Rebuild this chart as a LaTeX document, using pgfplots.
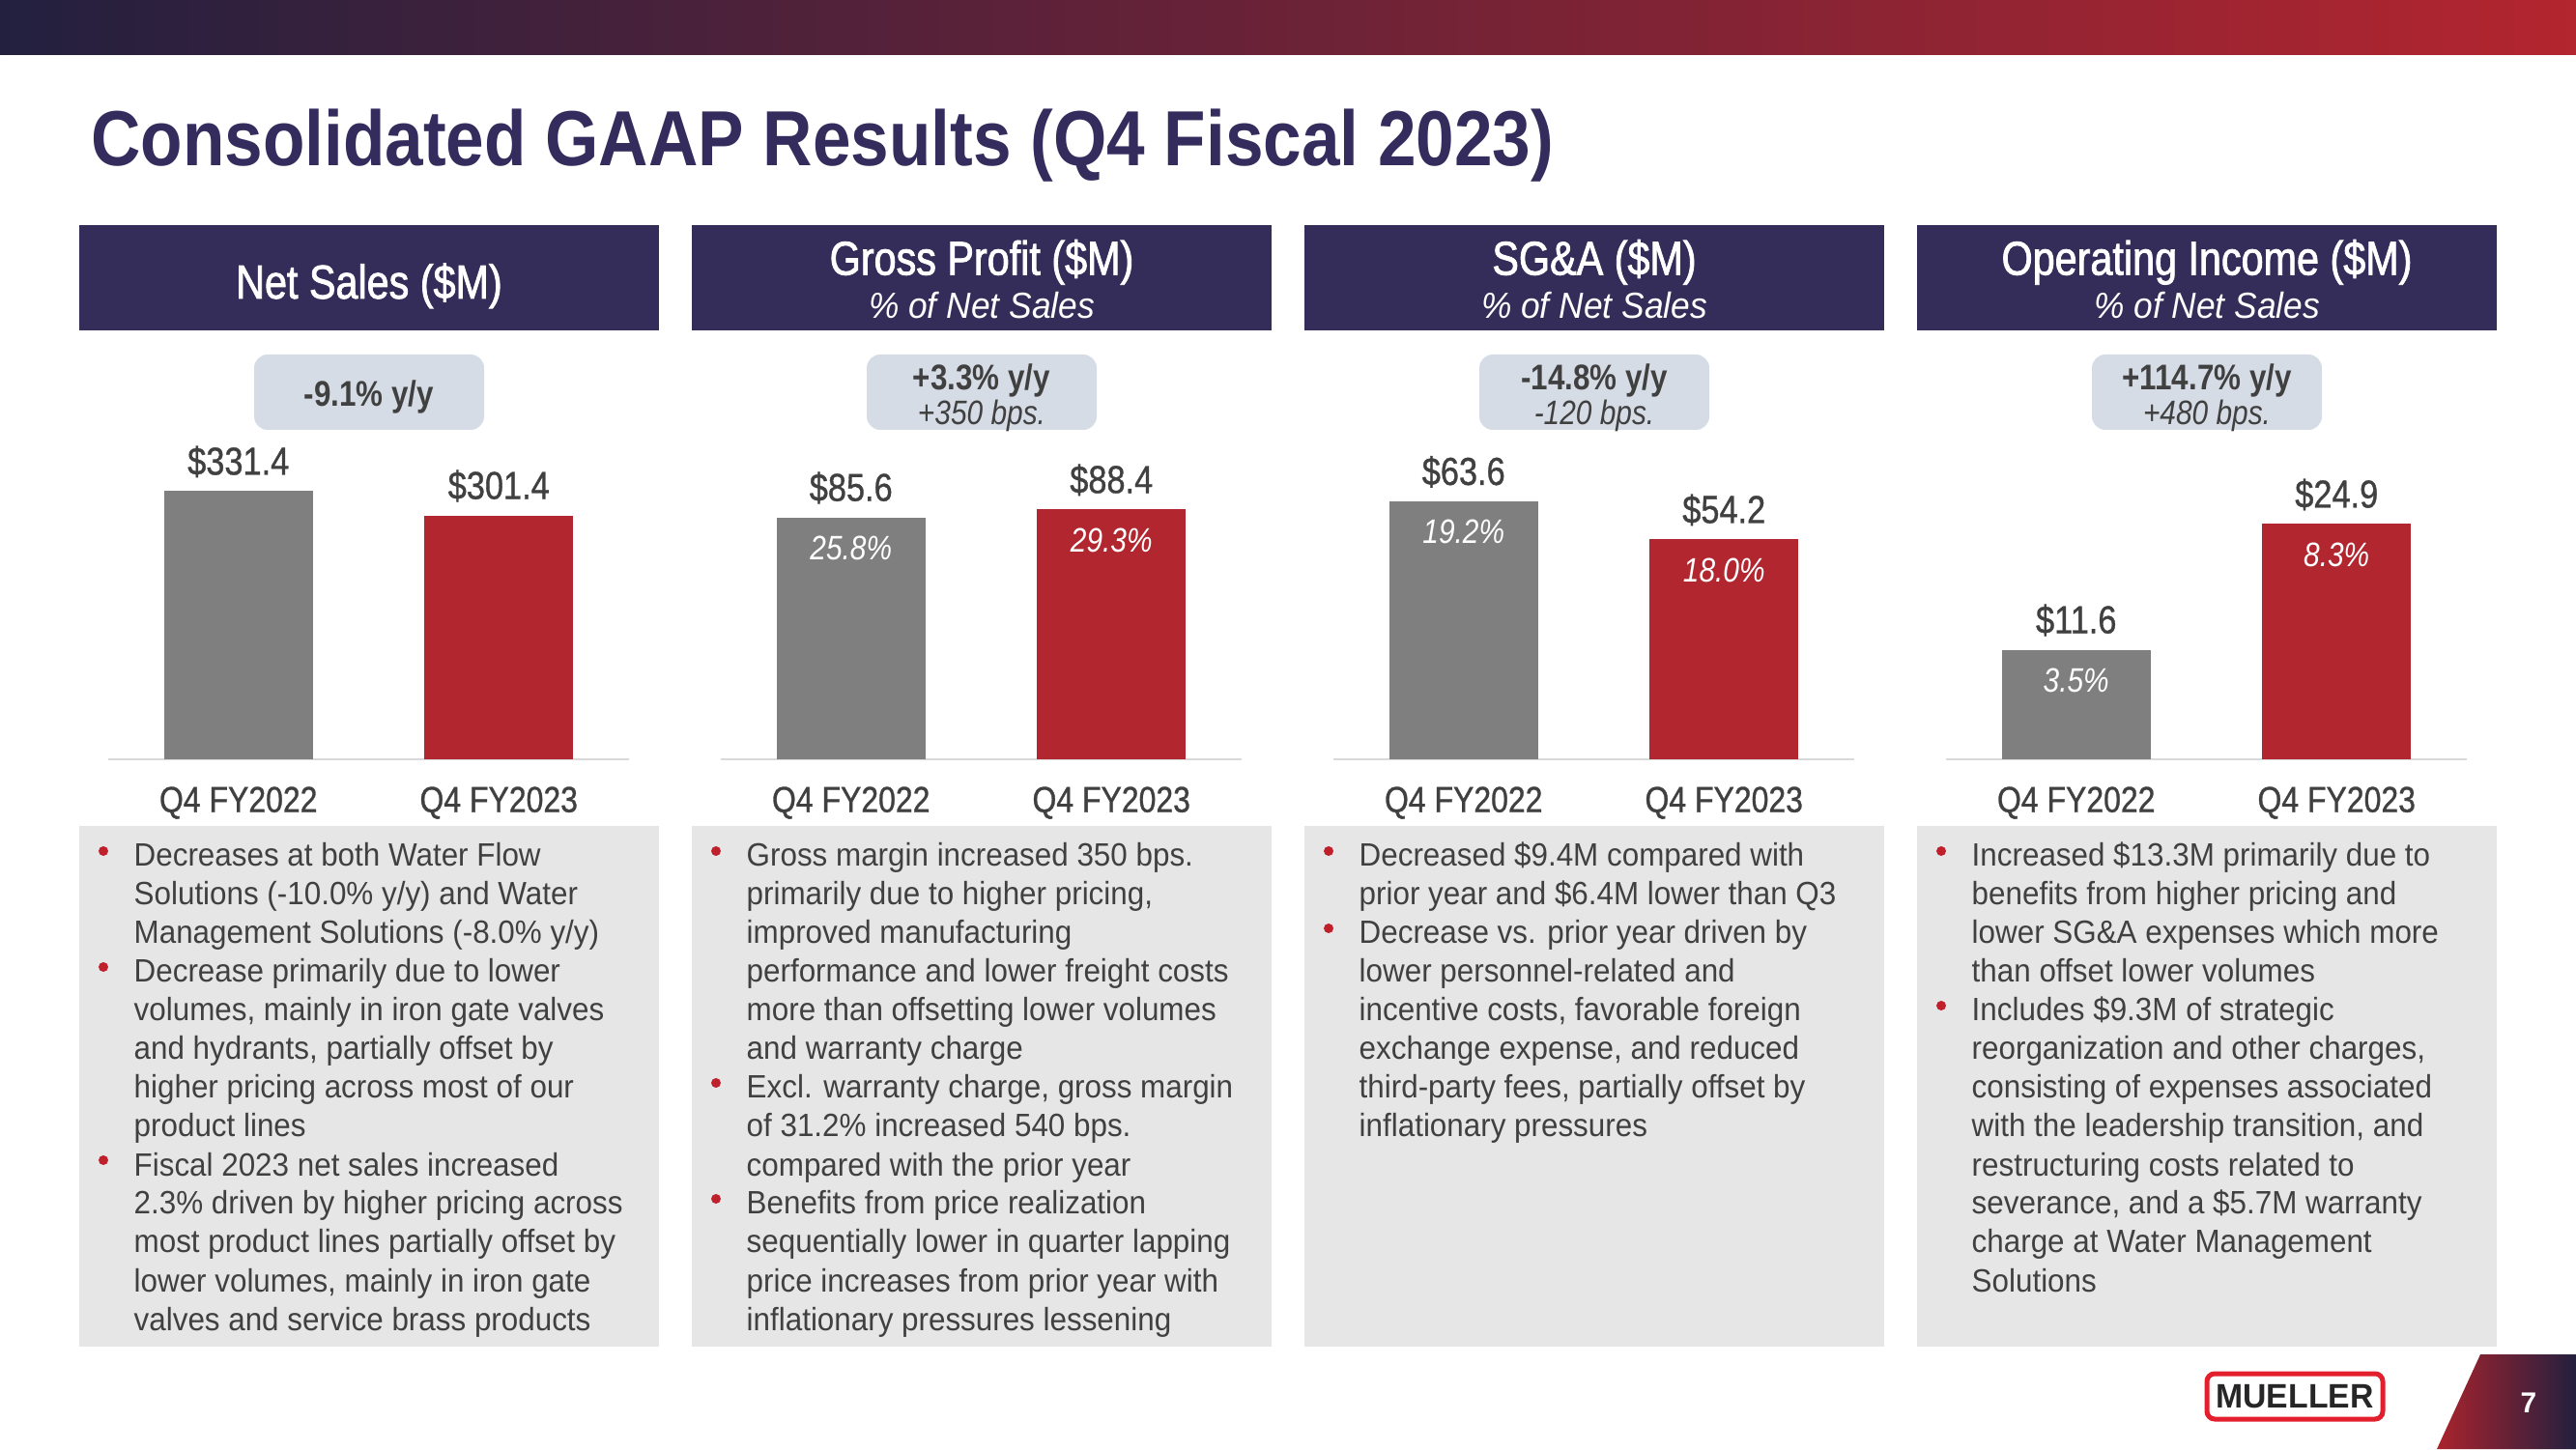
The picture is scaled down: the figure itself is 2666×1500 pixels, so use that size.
\documentclass[border=0pt]{standalone}
\usepackage{pgfplots}
\pgfplotsset{compat=1.18}
\usepackage{fontspec}
\setmainfont{Liberation Sans}
\newfontfamily\cond{Liberation Sans}[FakeStretch=0.85]
\newfontfamily\condm{Liberation Sans}[FakeStretch=0.85, FakeBold=0.8]
\newfontfamily\condh{Liberation Sans}[FakeStretch=0.84, FakeBold=1.6]
\newfontfamily\bodyf{Liberation Sans}[FakeStretch=0.94]
\newfontfamily\ttlf{Liberation Sans}[FakeStretch=0.88]
\newfontfamily\logof{Liberation Sans}[FakeStretch=0.96]

\definecolor{navyA}{HTML}{23203F}
\definecolor{redA}{HTML}{B3252F}
\definecolor{ttl}{HTML}{332C5C}
\definecolor{hdr}{HTML}{352D59}
\definecolor{pill}{HTML}{D6DCE5}
\definecolor{bgray}{HTML}{7F7F7F}
\definecolor{bred}{HTML}{B1262F}
\definecolor{panelc}{HTML}{E7E6E6}
\definecolor{txt}{HTML}{404040}
\definecolor{axg}{HTML}{D9D9D9}
\definecolor{bul}{HTML}{C0202C}
\definecolor{logored}{HTML}{E31E2D}

\pgfplotsset{
  /pgf/number format/assume math mode=true,
  panelaxis/.style={anchor=south west, width=53.9mm, height=33mm, scale only axis,
    xmin=-0.5, xmax=1.5, ymin=0, clip=false, axis line style={draw=none},
    ytick=\empty, xtick={0,1}, xticklabels={Q4 FY2022,Q4 FY2023}, major tick length=0pt,
    xticklabel style={font=\condm\fontsize{10.7}{12}\selectfont, text=txt, anchor=north, yshift=-1.6mm}},
  valbar/.style={ybar, bar width=0.57, bar shift=0pt, draw=none, point meta=y,
    nodes near coords={\$\pgfmathprintnumber[fixed,fixed zerofill,precision=1]{\pgfplotspointmeta}},
    every node near coord/.append style={anchor=base, yshift=1.7mm, text=txt, inner sep=0pt,
      font=\condm\fontsize{11.5}{13}\selectfont}},
  pctbar/.style={ybar, bar width=0.57, bar shift=0pt, draw=none, fill=none, point meta=explicit,
    nodes near coords={\pgfmathprintnumber[fixed,fixed zerofill,precision=1]{\pgfplotspointmeta}\%},
    every node near coord/.append style={anchor=base, yshift=-4.4mm, text=white, inner sep=0pt,
      font=\cond\itshape\fontsize{10}{12}\selectfont}},
}

\newcommand{\bodyfont}{\bodyf\fontsize{9.5}{11.4}\selectfont}
\newcommand{\bl}[3]{\node[anchor=base west, inner sep=0pt, font=\bodyfont, text=txt] at ({138+634*#1},{603-40*#2}) {#3};}
\newcommand{\bu}[2]{\fill[bul] ({107+634*#1},{619-40*#2}) circle (5);}

\begin{document}
\begin{tikzpicture}[x=0.1mm,y=0.1mm]
\path[use as bounding box, fill=white] (0,0) rectangle (2666,1500);
% top band
\shade[left color=navyA, right color=redA] (0,1443) rectangle (2666,1500);
% title
\node[anchor=base west, inner sep=0pt, text=ttl, font=\ttlf\bfseries\fontsize{23}{27}\selectfont] at (93.5,1328) {Consolidated GAAP Results (Q4 Fiscal 2023)};
% boxes
\foreach \i in {0,1,2,3} {
  \fill[hdr] ({82+634*\i},1158) rectangle ({682+634*\i},1267);
  \fill[panelc] ({82+634*\i},106) rectangle ({682+634*\i},645);
  \fill[pill, rounded corners=1.4mm] ({263+634*\i},1055) rectangle ({501+634*\i},1133);
}
% header texts
\node[anchor=base, inner sep=0pt, text=white, font=\condh\fontsize{14}{16}\selectfont] at (382,1191) {Net Sales (\$M)};
\foreach \i/\t in {1/{Gross Profit (\$M)},2/{SG\&A (\$M)},3/{Operating Income (\$M)}} {
  \node[anchor=base, inner sep=0pt, text=white, font=\condh\fontsize{14}{16}\selectfont] at ({382+634*\i},1215.5) {\t};
  \node[anchor=base, inner sep=0pt, text=white, font=\bodyf\itshape\fontsize{10.7}{12}\selectfont] at ({382+634*\i},1170.5) {\% of Net Sales};
}
% pills
\node[anchor=base, inner sep=0pt, text=txt, font=\cond\bfseries\fontsize{10.5}{12}\selectfont] at (382,1079) {-9.1\% y/y};
\foreach \i/\a/\b in {1/{+3.3\% y/y}/{+350 bps.},2/{-14.8\% y/y}/{-120 bps.},3/{+114.7\% y/y}/{+480 bps.}} {
  \node[anchor=base, inner sep=0pt, text=txt, font=\cond\bfseries\fontsize{10.5}{12}\selectfont] at ({382+634*\i},1096) {\a};
  \node[anchor=base, inner sep=0pt, text=txt, font=\cond\itshape\fontsize{10}{12}\selectfont] at ({382+634*\i},1060.5) {\b};
}

% charts
\begin{axis}[panelaxis, at={(11.2mm,71.4mm)}, ymax=394]
  \draw[axg, line width=0.25mm] (axis cs:-0.5,0) -- (axis cs:1.5,0);
  \addplot[valbar, fill=bgray] coordinates {(0,331.4)};
  \addplot[valbar, fill=bred] coordinates {(1,301.4)};
\end{axis}
\begin{axis}[panelaxis, at={(74.6mm,71.4mm)}, ymax=112.8]
  \draw[axg, line width=0.25mm] (axis cs:-0.5,0) -- (axis cs:1.5,0);
  \addplot[valbar, fill=bgray] coordinates {(0,85.6)};
  \addplot[valbar, fill=bred] coordinates {(1,88.4)};
  \addplot[pctbar] coordinates {(0,85.6) [25.8] (1,88.4) [29.3]};
\end{axis}
\begin{axis}[panelaxis, at={(138.0mm,71.4mm)}, ymax=78.6]
  \draw[axg, line width=0.25mm] (axis cs:-0.5,0) -- (axis cs:1.5,0);
  \addplot[valbar, fill=bgray] coordinates {(0,63.6)};
  \addplot[valbar, fill=bred] coordinates {(1,54.2)};
  \addplot[pctbar] coordinates {(0,63.6) [19.2] (1,54.2) [18.0]};
\end{axis}
\begin{axis}[panelaxis, at={(201.4mm,71.4mm)}, ymax=33.74]
  \draw[axg, line width=0.25mm] (axis cs:-0.5,0) -- (axis cs:1.5,0);
  \addplot[valbar, fill=bgray] coordinates {(0,11.6)};
  \addplot[valbar, fill=bred] coordinates {(1,24.9)};
  \addplot[pctbar] coordinates {(0,11.6) [3.5] (1,24.9) [8.3]};
\end{axis}

% body panel 1
\bu{0}{0}\bu{0}{3}\bu{0}{8}
\bl{0}{0}{Decreases at both Water Flow}
\bl{0}{1}{Solutions (-10.0\% y/y) and Water}
\bl{0}{2}{Management Solutions (-8.0\% y/y)}
\bl{0}{3}{Decrease primarily due to lower}
\bl{0}{4}{volumes, mainly in iron gate valves}
\bl{0}{5}{and hydrants, partially offset by}
\bl{0}{6}{higher pricing across most of our}
\bl{0}{7}{product lines}
\bl{0}{8}{Fiscal 2023 net sales increased}
\bl{0}{9}{2.3\% driven by higher pricing across}
\bl{0}{10}{most product lines partially offset by}
\bl{0}{11}{lower volumes, mainly in iron gate}
\bl{0}{12}{valves and service brass products}
% body panel 2
\bu{1}{0}\bu{1}{6}\bu{1}{9}
\bl{1}{0}{Gross margin increased 350 bps.}
\bl{1}{1}{primarily due to higher pricing,}
\bl{1}{2}{improved manufacturing}
\bl{1}{3}{performance and lower freight costs}
\bl{1}{4}{more than offsetting lower volumes}
\bl{1}{5}{and warranty charge}
\bl{1}{6}{Excl. warranty charge, gross margin}
\bl{1}{7}{of 31.2\% increased 540 bps.}
\bl{1}{8}{compared with the prior year}
\bl{1}{9}{Benefits from price realization}
\bl{1}{10}{sequentially lower in quarter lapping}
\bl{1}{11}{price increases from prior year with}
\bl{1}{12}{inflationary pressures lessening}
% body panel 3
\bu{2}{0}\bu{2}{2}
\bl{2}{0}{Decreased \$9.4M compared with}
\bl{2}{1}{prior year and \$6.4M lower than Q3}
\bl{2}{2}{Decrease vs. prior year driven by}
\bl{2}{3}{lower personnel-related and}
\bl{2}{4}{incentive costs, favorable foreign}
\bl{2}{5}{exchange expense, and reduced}
\bl{2}{6}{third-party fees, partially offset by}
\bl{2}{7}{inflationary pressures}
% body panel 4
\bu{3}{0}\bu{3}{4}
\bl{3}{0}{Increased \$13.3M primarily due to}
\bl{3}{1}{benefits from higher pricing and}
\bl{3}{2}{lower SG\&A expenses which more}
\bl{3}{3}{than offset lower volumes}
\bl{3}{4}{Includes \$9.3M of strategic}
\bl{3}{5}{reorganization and other charges,}
\bl{3}{6}{consisting of expenses associated}
\bl{3}{7}{with the leadership transition, and}
\bl{3}{8}{restructuring costs related to}
\bl{3}{9}{severance, and a \$5.7M warranty}
\bl{3}{10}{charge at Water Management}
\bl{3}{11}{Solutions}

% logo
\draw[logored, line width=0.5mm, fill=white, rounded corners=0.8mm] (2284,31) rectangle (2466,78);
\node[inner sep=0pt, text=black!85, font=\logof\bfseries\fontsize{10}{12}\selectfont] at (2375,54.5) {MUELLER};
% page number
\shade[left color=redA!95!black, right color=navyA] (2567,98) -- (2666,98) -- (2666,0) -- (2522,0) -- cycle;
\node[inner sep=0pt, text=white, font=\bfseries\fontsize{8.5}{10}\selectfont] at (2617,48) {7};
\end{tikzpicture}
\end{document}
